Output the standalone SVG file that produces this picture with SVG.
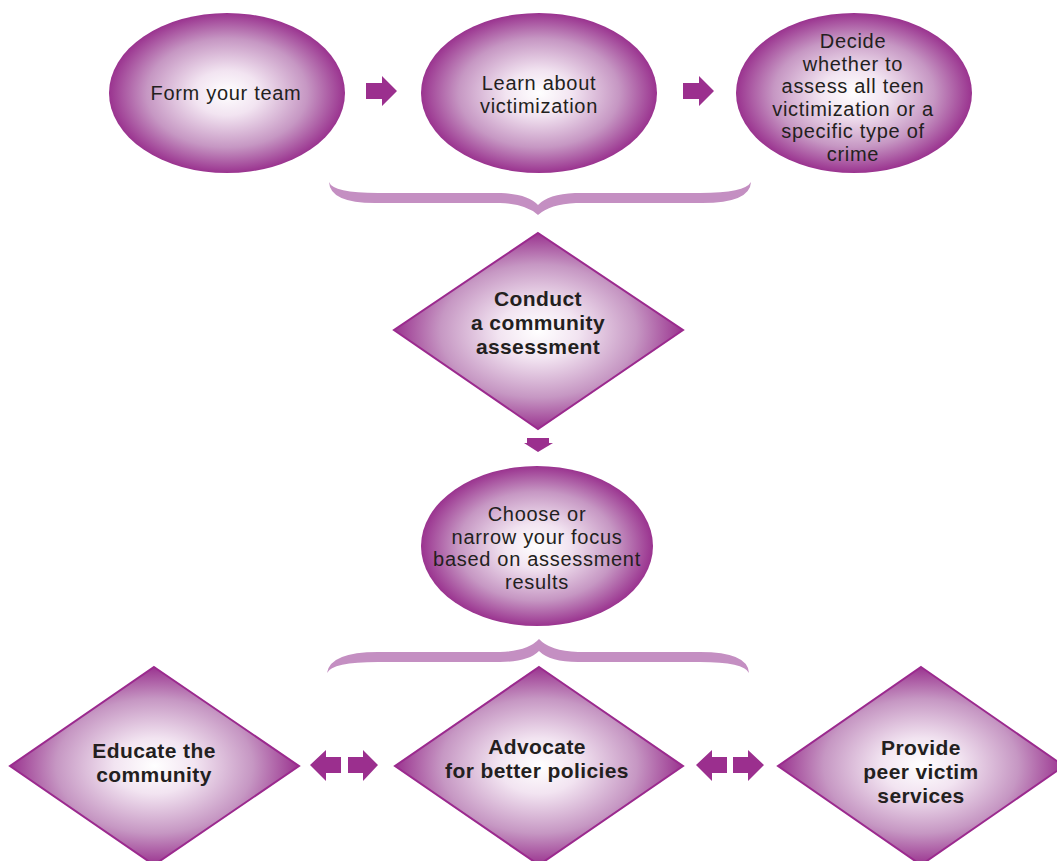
<svg xmlns="http://www.w3.org/2000/svg" width="1057" height="861" viewBox="0 0 1057 861">
<defs>
<radialGradient id="g" cx="0.5" cy="0.5" r="0.5">
<stop offset="0" stop-color="#ffffff"/>
<stop offset="0.28" stop-color="#f2e4f1"/>
<stop offset="0.68" stop-color="#c697c3"/>
<stop offset="1" stop-color="#9a338f"/>
</radialGradient>
</defs>
<style>
.ell{fill:url(#g);}
.dia{fill:url(#g);stroke:#9b2a8e;stroke-width:2;stroke-linejoin:miter;}
.arr{fill:#9b2f8e;}
.brace{fill:#c48fc2;}
.t{font-family:"Liberation Sans",Arial,sans-serif;font-size:20px;letter-spacing:0.7px;fill:#231f20;text-anchor:middle;}
.b{font-family:"Liberation Sans",Arial,sans-serif;font-size:21px;font-weight:bold;letter-spacing:0.4px;fill:#231f20;text-anchor:middle;}
</style>
<rect width="1057" height="861" fill="#ffffff"/>

<g id="connectors">
<polygon class="arr" points="366,83 382,83 382,76 397,91 382,106 382,99 366,99"/>
<polygon class="arr" points="683,83 699,83 699,76 714,91 699,106 699,99 683,99"/>
<path class="brace" d="M329,182 Q330,203 375,203 L500,203 Q526,204 538,215 Q550,204 576,203 L702,203 Q750,203 751,182 Q745,193 700,193 L575,193 Q548,194 538,205 Q528,194 501,193 L378,193 Q333,193 329,182 Z"/>
<polygon class="arr" points="527,438 549,438 549,443 553,443 538,452 524,443 527,443"/>
<path class="brace" d="M327,673 Q330,652 378,652 L500,652 Q528,651 539,639 Q550,651 578,652 L700,652 Q748,652 749,673 Q744,662 700,662 L578,662 Q550,662 539,651 Q528,662 500,662 L378,662 Q332,662 327,673 Z"/>
<polygon class="arr" points="310,765 326,750 326,757 341,757 341,773 326,773 326,781"/>
<polygon class="arr" points="348,757 363,757 363,750 378,765 363,781 363,773 348,773"/>
<polygon class="arr" points="696,765 712,750 712,757 727,757 727,773 712,773 712,781"/>
<polygon class="arr" points="733,757 748,757 748,750 764,765 748,781 748,773 733,773"/>
</g>

<g id="form-team">
<ellipse class="ell" cx="227" cy="93" rx="118" ry="80"/>
<text class="t" x="226" y="100">Form your team</text>
</g>

<g id="learn">
<ellipse class="ell" cx="539" cy="93" rx="118" ry="80"/>
<text class="t" x="539" y="90">Learn about</text>
<text class="t" x="539" y="113">victimization</text>
</g>

<g id="decide">
<ellipse class="ell" cx="854" cy="93" rx="118" ry="80"/>
<text class="t" x="853" y="48">Decide</text>
<text class="t" x="853" y="70.5">whether to</text>
<text class="t" x="853" y="93">assess all teen</text>
<text class="t" x="853" y="115.5">victimization or a</text>
<text class="t" x="853" y="138">specific type of</text>
<text class="t" x="853" y="160.5">crime</text>
</g>

<g id="conduct">
<polygon class="dia" points="538,233 683,330 538,429 394,330"/>
<text class="b" x="538" y="306">Conduct</text>
<text class="b" x="538" y="330">a community</text>
<text class="b" x="538" y="354">assessment</text>
</g>

<g id="choose">
<ellipse class="ell" cx="537" cy="546" rx="116" ry="80"/>
<text class="t" x="537" y="521">Choose or</text>
<text class="t" x="537" y="543.5">narrow your focus</text>
<text class="t" x="537" y="566">based on assessment</text>
<text class="t" x="537" y="588.5">results</text>
</g>

<g id="educate">
<polygon class="dia" points="154,667 299,766 154,865 10,766"/>
<text class="b" x="154" y="758">Educate the</text>
<text class="b" x="154" y="782">community</text>
</g>

<g id="advocate">
<polygon class="dia" points="539,667 683,766 539,865 395,766"/>
<text class="b" x="537" y="754">Advocate</text>
<text class="b" x="537" y="778">for better policies</text>
</g>

<g id="provide">
<polygon class="dia" points="921,667 1064,766 921,865 778,766"/>
<text class="b" x="921" y="755">Provide</text>
<text class="b" x="921" y="779">peer victim</text>
<text class="b" x="921" y="803">services</text>
</g>
</svg>
